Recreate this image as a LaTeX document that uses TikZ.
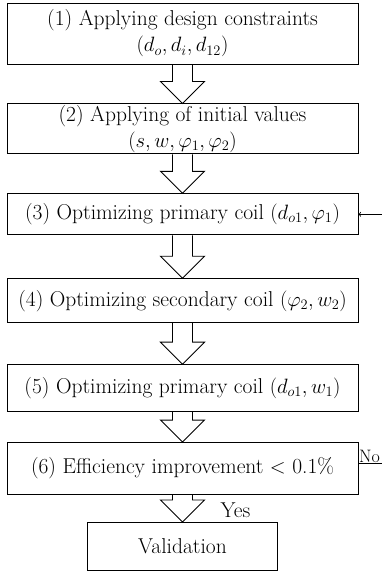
\documentclass[tikz,border=0pt]{standalone}
\usepackage{amsmath}
\usetikzlibrary{positioning, calc, arrows}
\tikzstyle{rec} = [rectangle, minimum width=351pt, text centered, align=center, draw=black, line width=0.9pt, inner sep=1pt]
\tikzstyle{arrow} = [line width=0.8pt,->,>=to]
\tikzstyle{hollow} = [line width=0.9pt, line join=miter]
\tikzstyle{lbl} = [inner sep=1pt]
% hollow block arrow from the bottom of #1 to the top of #2
\newcommand{\hollowarrow}[2]{%
  \draw [hollow] ($(#1.south)+(-10pt,0pt)$) -- ($(#2.north)+(-10pt,22pt)$)
    -- ($(#2.north)+(-22pt,22pt)$) -- (#2.north) -- ($(#2.north)+(22pt,22pt)$)
    -- ($(#2.north)+(10pt,22pt)$) -- ($(#1.south)+(10pt,0pt)$);}

\begin{document}
\begin{tikzpicture}[x=1pt, y=1pt, font=\fontsize{21.5}{26}\selectfont]
		\useasboundingbox (0,0) rectangle (382,-574);
		\node (step1) [rec, minimum height=61pt] at (182.5,-33.5) {(1) Applying design constraints\\$(d_o, d_i, d_{12})$};
		\node (step2) [rec, minimum height=50pt, below=39pt of step1] {(2) Applying of initial values\\$(s, w, \varphi_1, \varphi_2)$};
		\hollowarrow{step1}{step2}
		\node (step3) [rec, minimum height=41pt, below=39pt of step2] {(3) Optimizing primary coil $(d_{o1}, \varphi_1)$};
		\hollowarrow{step2}{step3}
		\node (step4) [rec, minimum height=44pt, below=43pt of step3] {(4) Optimizing secondary coil $(\varphi_2, w_2)$};
		\hollowarrow{step3}{step4}
		\node (step5) [rec, minimum height=47pt, below=41pt of step4] {(5) Optimizing primary coil $(d_{o1}, w_1)$};
		\hollowarrow{step4}{step5}
		\node (step6) [rec, minimum height=52pt, below=30pt of step5] {(6) Efficiency improvement $<$ 0.1\%};
		\hollowarrow{step5}{step6}
		\node (valid) [rec, minimum width=190pt, minimum height=48pt, below=27pt of step6] {Validation};
		\hollowarrow{step6}{valid}
		\node (yes) [lbl, anchor=west] at ($(step6.south)+(37pt,-15pt)$) {Yes};
		% loop back (leaves the picture on the right)
		\coordinate (loopout) at ($(step6.east)+(30pt,5pt)$);
		\coordinate (loopin) at ($(step3.east)+(30pt,0pt)$);
		\draw [line width=0.8pt] (step6.east |- loopout) -- (loopout);
		\node (no) [lbl, inner sep=0.5pt, anchor=south west, font=\fontsize{18}{22}\selectfont] at (step6.east |- loopout) {No};
		\draw [arrow] (loopin) -- (step3.east);
\end{tikzpicture}
\end{document}
